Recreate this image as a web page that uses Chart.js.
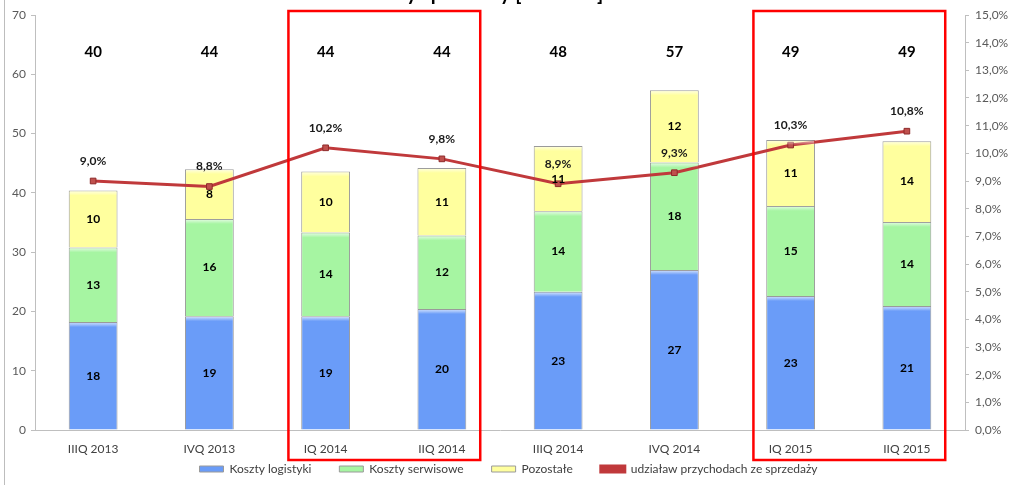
<!DOCTYPE html>
<html>
<head>
<meta charset="utf-8">
<script src="https://cdn.jsdelivr.net/npm/chart.js@4"></script>
<style>
  html, body { margin: 0; padding: 0; background: #fff; }
  #wrap { width: 1012px; height: 485px; }
</style>
</head>
<body>
<div id="wrap"><canvas id="myChart" width="1012" height="485"></canvas></div>
<script>
// data
const categories = ["IIIQ 2013", "IVQ 2013", "IQ 2014", "IIQ 2014", "IIIQ 2014", "IVQ 2014", "IQ 2015", "IIQ 2015"];
const logistics = [18.2, 19.2, 19.2, 20.4, 23.3, 27.0, 22.6, 20.9];
const service   = [12.6, 16.4, 14.1, 12.4, 13.6, 18.1, 15.2, 14.2];
const other     = [9.6, 8.4, 10.3, 11.4, 11.0, 12.2, 11.1, 13.6];
const share     = [9.0, 8.8, 10.2, 9.8, 8.9, 9.3, 10.3, 10.8];
const seriesNames = ["Koszty logistyki", "Koszty serwisowe", "Pozostałe", "udziaław przychodach ze sprzedaży"];
const leftAxis = { min: 0, max: 70, step: 10 };
const rightAxis = { min: 0, max: 15, step: 1 };
const titleText = "Koszty sprzedaży [mln PLN]";
const highlighted = [[2, 3], [6, 7]];

const FONT = "Lato, 'Open Sans', sans-serif";
const pct = v => v.toFixed(1).replace(".", ",") + "%";

const labelsPlugin = {
  id: "labels",
  afterLayout(chart) {
    // let the legend band start just under the axis line so its row sits lower
    const lg = chart.legend;
    lg.top = chart.scales.x.top + 5;
    lg.bottom = chart.height;
    lg.height = lg.bottom - lg.top;
  },
  beforeDraw(chart) {
    const ctx = chart.ctx;
    ctx.save();
    // frame line on the left
    ctx.strokeStyle = "#bdbdbd";
    ctx.lineWidth = 1;
    ctx.beginPath();
    ctx.moveTo(4.5, 0);
    ctx.lineTo(4.5, chart.height);
    ctx.stroke();
    // title, mostly cut off by the top edge
    ctx.fillStyle = "#000";
    ctx.font = "bold 20px " + FONT;
    ctx.textAlign = "center";
    ctx.textBaseline = "alphabetic";
    ctx.fillText(titleText, 480, 0);
    ctx.restore();
  },
  afterDatasetsDraw(chart) {
    const ctx = chart.ctx;
    const y = chart.scales.y;
    ctx.save();
    ctx.textAlign = "center";
    ctx.textBaseline = "middle";
    // bevel highlight + value in each segment
    for (let d = 0; d < 3; d++) {
      const meta = chart.getDatasetMeta(d);
      const vals = chart.data.datasets[d].data;
      meta.data.forEach((bar, i) => {
        const left = bar.x - bar.width / 2;
        const g = ctx.createLinearGradient(0, bar.y, 0, bar.y + 5);
        g.addColorStop(0, "rgba(255,255,255,0.75)");
        g.addColorStop(1, "rgba(255,255,255,0)");
        ctx.fillStyle = g;
        ctx.fillRect(left + 1, bar.y + 1, bar.width - 2, 5);
        ctx.fillStyle = "#000";
        ctx.font = "bold 12px " + FONT;
        ctx.fillText(Math.round(vals[i]), bar.x, (bar.y + bar.base) / 2);
      });
    }
    // totals on top
    const first = chart.getDatasetMeta(0);
    ctx.font = "bold 15px " + FONT;
    ctx.fillStyle = "#000";
    first.data.forEach((bar, i) => {
      const total = logistics[i] + service[i] + other[i];
      ctx.fillText(Math.round(total), bar.x, y.getPixelForValue(63.7));
    });
    // share labels
    const lineMeta = chart.getDatasetMeta(3);
    ctx.font = "bold 12px " + FONT;
    ctx.fillStyle = "#1a1a1a";
    lineMeta.data.forEach((pt, i) => {
      ctx.fillText(pct(share[i]), pt.x, pt.y - 20);
    });
    ctx.restore();
  },
  afterDraw(chart) {
    const ctx = chart.ctx;
    const x = chart.scales.x;
    const step = x.getPixelForValue(1) - x.getPixelForValue(0);
    ctx.save();
    ctx.strokeStyle = "#ff0000";
    ctx.lineWidth = 2.5;
    highlighted.forEach(([a, b]) => {
      const l = x.getPixelForValue(a) - step * 0.32;
      const r = x.getPixelForValue(b) + step * 0.33;
      ctx.strokeRect(l, 11, r - l, 449);
    });
    ctx.restore();
  }
};

const axisBorder = "#bfbfbf";
const tickFont = { family: FONT, size: 12 };

const chart = new Chart(document.getElementById("myChart").getContext("2d"), {
  type: "bar",
  data: {
    labels: categories,
    datasets: [
      { label: seriesNames[0], data: logistics, backgroundColor: "#6a9cf8", borderColor: "#9a9a9a", borderWidth: 1, order: 1, stack: "s" },
      { label: seriesNames[1], data: service, backgroundColor: "#a6f5a2", borderColor: "#9a9a9a", borderWidth: 1, order: 1, stack: "s" },
      { label: seriesNames[2], data: other, backgroundColor: "#ffff9e", borderColor: "#9a9a9a", borderWidth: 1, order: 1, stack: "s" },
      {
        type: "line", label: seriesNames[3], data: share, yAxisID: "y1", order: 0,
        borderColor: "#c0393b", backgroundColor: "#c0393b", borderWidth: 3,
        pointStyle: "rect", pointRadius: 4, pointBackgroundColor: "#c0504d",
        pointBorderColor: "#8e2a2a", pointBorderWidth: 1, tension: 0
      }
    ]
  },
  options: {
    responsive: false,
    devicePixelRatio: 1,
    animation: false,
    layout: { padding: { left: 5, right: 0, top: 15, bottom: 0 } },
    datasets: { bar: { barPercentage: 0.42, categoryPercentage: 1 } },
    plugins: {
      tooltip: { enabled: false },
      legend: {
        position: "bottom",
        labels: {
          boxWidth: 24, boxHeight: 6, padding: 28,
          color: "#404040", font: { family: FONT, size: 12 },
          sort: (a, b) => a.datasetIndex - b.datasetIndex
        }
      }
    },
    scales: {
      x: {
        stacked: true,
        grid: { display: false },
        border: { color: axisBorder },
        ticks: { color: "#404040", font: tickFont, padding: 4 },
        afterFit: s => { s.height = 26; }
      },
      y: {
        stacked: true, position: "left",
        min: leftAxis.min, max: leftAxis.max,
        grid: { drawOnChartArea: false, tickLength: 4, color: axisBorder },
        border: { color: axisBorder },
        ticks: { stepSize: leftAxis.step, color: "#595959", font: tickFont, padding: 5 },
        afterFit: s => { s.width = 30; }
      },
      y1: {
        position: "right",
        min: rightAxis.min, max: rightAxis.max,
        grid: { drawOnChartArea: false, tickLength: 4, color: axisBorder },
        border: { color: axisBorder },
        ticks: { stepSize: rightAxis.step, color: "#595959", font: tickFont, padding: 6, callback: v => pct(v) },
        afterFit: s => { s.width = 47; }
      }
    }
  },
  plugins: [labelsPlugin]
});

// fixed height for the legend band so the plot keeps its size
const legendFit = chart.legend.fit;
chart.legend.fit = function () { legendFit.call(this); this.height = 29; };
chart.update();
</script>
</body>
</html>
